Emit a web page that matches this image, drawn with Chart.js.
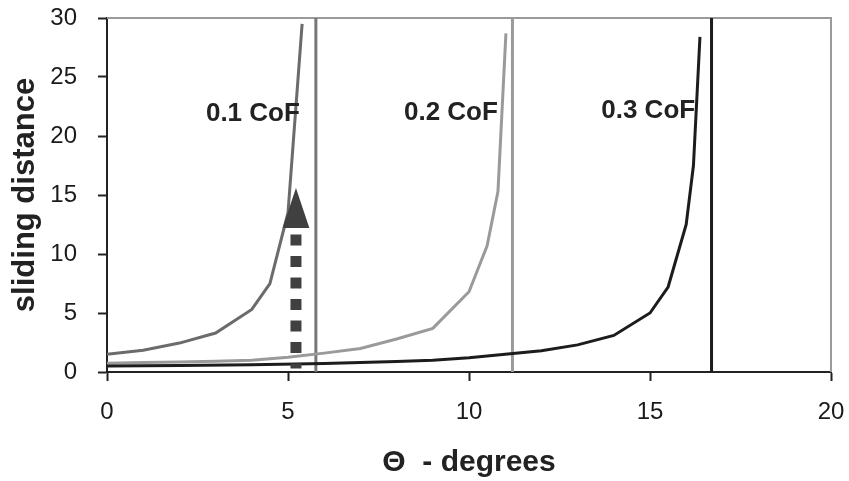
<!DOCTYPE html>
<html>
<head>
<meta charset="utf-8">
<script src="https://cdn.jsdelivr.net/npm/chart.js@4"></script>
<style>
  body { margin: 0; background: #fff; }
</style>
</head>
<body>
<canvas id="chart" width="849" height="481"></canvas>
<script>
// --- data ---
const theta01 = [0, 1, 2, 3, 4, 4.5, 5.0, 5.39];
const dist01  = [1.5, 1.85, 2.45, 3.3, 5.3, 7.5, 13.5, 29.5];

const theta02 = [0, 1, 2, 3, 4, 5, 6, 7, 8, 9, 10, 10.5, 10.8, 11.02];
const dist02  = [0.75, 0.8, 0.85, 0.92, 1.0, 1.25, 1.6, 2.0, 2.8, 3.7, 6.8, 10.7, 15.3, 28.7];

const theta03 = [0, 2, 4, 6, 8, 9, 10, 11, 12, 13, 14, 15, 15.5, 16, 16.2, 16.38];
const dist03  = [0.5, 0.55, 0.62, 0.72, 0.9, 1.0, 1.2, 1.5, 1.8, 2.3, 3.1, 5.0, 7.2, 12.5, 17.5, 28.4];

// limiting angle for each CoF
const limitTheta = [5.77, 11.2, 16.7];

// labels
const cofLabels = ['0.1 CoF', '0.2 CoF', '0.3 CoF'];
const cofLabelX = [4.03, 9.5, 14.95];
const cofLabelY = [21.9, 22, 22.1];

// arrow (shaft then head)
const arrowShaftX = [5.22, 5.22];
const arrowShaftY = [11.65, 0.3];
const arrowHeadX  = [4.85, 5.22, 5.59];
const arrowHeadY  = [12.2, 15.6, 12.2];

const xTicks = [0, 5, 10, 15, 20];
const yTicks = [0, 5, 10, 15, 20, 25, 30];

const pts = (xs, ys) => xs.map((x, i) => ({ x: x, y: ys[i] }));
const colors = ['#6b6b6b', '#9a9a9a', '#1c1c1c'];

const curve = (xs, ys, color, order) => ({
    data: pts(xs, ys), showLine: true, borderColor: color, borderWidth: 3,
    pointRadius: 0, tension: 0, fill: false, order: order
});
const limit = (x, color, order) => ({
    data: [{ x: x, y: 0 }, { x: x, y: 30 }], showLine: true, borderColor: color,
    borderWidth: 3, pointRadius: 0, fill: false, order: order
});

// top/right frame in grey + the CoF labels
const framePlugin = {
    id: 'frame',
    beforeDatasetsDraw(chart) {
        const { ctx, chartArea: a } = chart;
        ctx.save();
        ctx.strokeStyle = '#9a9a9a';
        ctx.lineWidth = 2;
        ctx.beginPath();
        ctx.moveTo(a.left, a.top);
        ctx.lineTo(a.right, a.top);
        ctx.lineTo(a.right, a.bottom);
        ctx.stroke();
        ctx.restore();
    },
    afterDatasetsDraw(chart) {
        const { ctx, scales } = chart;
        ctx.save();
        ctx.fillStyle = '#222';
        ctx.font = 'bold 26px "Liberation Sans", Arial, sans-serif';
        ctx.textAlign = 'center';
        ctx.textBaseline = 'middle';
        cofLabels.forEach((t, i) => {
            ctx.fillText(t, scales.x.getPixelForValue(cofLabelX[i]), scales.y.getPixelForValue(cofLabelY[i]));
        });
        ctx.restore();
    }
};

new Chart(document.getElementById('chart'), {
    type: 'scatter',
    data: {
        datasets: [
            curve(theta03, dist03, colors[2], 1),
            curve(theta01, dist01, colors[0], 2),
            curve(theta02, dist02, colors[1], 3),
            limit(limitTheta[0], '#777', 4),
            limit(limitTheta[1], '#9a9a9a', 4),
            limit(limitTheta[2], '#1c1c1c', 4),
            {
                data: pts(arrowShaftX, arrowShaftY), showLine: true, borderColor: '#404040',
                borderWidth: 11, borderDash: [11, 10.5], borderCapStyle: 'butt',
                pointRadius: 0, fill: false, order: 0
            },
            {
                data: pts(arrowHeadX, arrowHeadY), showLine: true, borderWidth: 0,
                borderColor: '#404040', backgroundColor: '#404040', fill: 'shape',
                pointRadius: 0, order: 0
            }
        ]
    },
    options: {
        responsive: false,
        animation: false,
        layout: { padding: { top: 18, right: 18, left: 0, bottom: 0 }, autoPadding: false },
        plugins: { legend: { display: false }, tooltip: { enabled: false } },
        scales: {
            x: {
                type: 'linear', min: 0, max: 20,
                afterBuildTicks: s => { s.ticks = xTicks.map(v => ({ value: v })); },
                // fixed box so the plot area lands where the reference has it
                afterFit: s => { s.height = 109; s.paddingLeft = 0; s.paddingRight = 0; },
                grid: { drawOnChartArea: false, tickLength: 9, tickColor: '#222', tickWidth: 2 },
                border: { color: '#222', width: 2 },
                ticks: { color: '#1a1a1a', padding: 17, font: { family: '"Liberation Sans", Arial', size: 24 } },
                title: {
                    display: true, text: 'Θ  - degrees', color: '#222',
                    padding: { top: 0, bottom: 0 },
                    font: { family: '"Liberation Sans", Arial', size: 30, weight: 'bold' }
                }
            },
            y: {
                min: 0, max: 30,
                afterBuildTicks: s => { s.ticks = yTicks.map(v => ({ value: v })); },
                afterFit: s => { s.width = 107; s.paddingTop = 0; s.paddingBottom = 0; },
                grid: { drawOnChartArea: false, tickLength: 9, tickColor: '#222', tickWidth: 2 },
                border: { color: '#222', width: 2 },
                ticks: { color: '#1a1a1a', padding: 21, font: { family: '"Liberation Sans", Arial', size: 24 } },
                title: {
                    display: true, text: 'sliding distance', color: '#222',
                    padding: { top: 7, bottom: 0 },
                    font: { family: '"Liberation Sans", Arial', size: 31, weight: 'bold' }
                }
            }
        }
    },
    plugins: [framePlugin]
});
</script>
</body>
</html>
